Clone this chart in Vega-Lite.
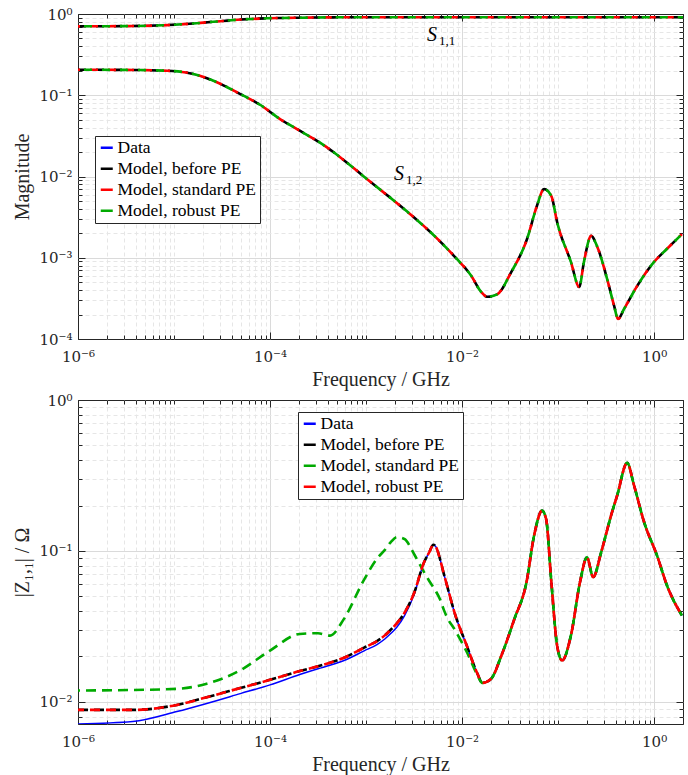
{
  "$schema": "https://vega.github.io/schema/vega-lite/v6.json",
  "padding": {"left": 12, "top": 6, "right": 4, "bottom": 2},
  "spacing": 2,
  "resolve": {"scale": {"color": "independent"}, "legend": {"color": "independent"}},
  "vconcat": [
    {
      "width": 605,
      "height": 325,
      "data": {"values": [
        {"c": "S11", "f": 1e-6, "m": 0.705},
        {"c": "S11", "f": 3.16e-6, "m": 0.71},
        {"c": "S11", "f": 8.51e-6, "m": 0.73},
        {"c": "S11", "f": 1.585e-5, "m": 0.765},
        {"c": "S11", "f": 2.82e-5, "m": 0.81},
        {"c": "S11", "f": 5.0e-5, "m": 0.855},
        {"c": "S11", "f": 9.3e-5, "m": 0.885},
        {"c": "S11", "f": 2.0e-4, "m": 0.9},
        {"c": "S11", "f": 4.6e-4, "m": 0.91},
        {"c": "S11", "f": 1e-3, "m": 0.912},
        {"c": "S11", "f": 1e-2, "m": 0.912},
        {"c": "S11", "f": 0.1, "m": 0.912},
        {"c": "S11", "f": 1, "m": 0.912},
        {"c": "S11", "f": 2, "m": 0.912},
        {"c": "S12", "f": 1e-6, "m": 0.206},
        {"c": "S12", "f": 3.16e-6, "m": 0.205},
        {"c": "S12", "f": 8.51e-6, "m": 0.2},
        {"c": "S12", "f": 1.585e-5, "m": 0.183},
        {"c": "S12", "f": 2.57e-5, "m": 0.151},
        {"c": "S12", "f": 4.9e-5, "m": 0.1035},
        {"c": "S12", "f": 7.94e-5, "m": 0.0759},
        {"c": "S12", "f": 1.26e-4, "m": 0.0513},
        {"c": "S12", "f": 2.04e-4, "m": 0.0366},
        {"c": "S12", "f": 3.09e-4, "m": 0.0275},
        {"c": "S12", "f": 4.57e-4, "m": 0.02},
        {"c": "S12", "f": 5.75e-4, "m": 0.0162},
        {"c": "S12", "f": 1.02e-3, "m": 0.00933},
        {"c": "S12", "f": 2.49e-3, "m": 0.00398},
        {"c": "S12", "f": 4.32e-3, "m": 0.00226},
        {"c": "S12", "f": 8.26e-3, "m": 0.00105},
        {"c": "S12", "f": 0.0124, "m": 0.000603},
        {"c": "S12", "f": 0.0158, "m": 0.00038},
        {"c": "S12", "f": 0.0182, "m": 0.000331},
        {"c": "S12", "f": 0.0232, "m": 0.000355},
        {"c": "S12", "f": 0.0324, "m": 0.00066},
        {"c": "S12", "f": 0.0475, "m": 0.0017},
        {"c": "S12", "f": 0.0603, "m": 0.00437},
        {"c": "S12", "f": 0.0714, "m": 0.007},
        {"c": "S12", "f": 0.0851, "m": 0.00575},
        {"c": "S12", "f": 0.0977, "m": 0.00275},
        {"c": "S12", "f": 0.136, "m": 0.00089},
        {"c": "S12", "f": 0.166, "m": 0.000437},
        {"c": "S12", "f": 0.186, "m": 0.00089},
        {"c": "S12", "f": 0.221, "m": 0.00186},
        {"c": "S12", "f": 0.255, "m": 0.00138},
        {"c": "S12", "f": 0.324, "m": 0.00055},
        {"c": "S12", "f": 0.383, "m": 0.000257},
        {"c": "S12", "f": 0.422, "m": 0.000176},
        {"c": "S12", "f": 0.486, "m": 0.000234},
        {"c": "S12", "f": 0.665, "m": 0.000447},
        {"c": "S12", "f": 1, "m": 0.00089},
        {"c": "S12", "f": 1.365, "m": 0.00129},
        {"c": "S12", "f": 1.95, "m": 0.00195}
      ]},
      "resolve": {"axis": {"x": "independent", "y": "independent"}},
      "layer": [
        {
          "mark": {"type": "line", "strokeWidth": 1.5, "interpolate": "monotone", "clip": true},
          "encoding": {
            "x": {"field": "f", "type": "quantitative",
              "scale": {"type": "log", "domain": [1e-6, 2], "nice": false},
              "axis": {
                "orient": "bottom",
                "values": [1e-6,2e-6,3e-6,4e-6,5e-6,6e-6,7e-6,8e-6,9e-6,1e-5,2e-5,3e-5,4e-5,5e-5,6e-5,7e-5,8e-5,9e-5,1e-4,2e-4,3e-4,4e-4,5e-4,6e-4,7e-4,8e-4,9e-4,0.001,0.002,0.003,0.004,0.005,0.006,0.007,0.008,0.009,0.01,0.02,0.03,0.04,0.05,0.06,0.07,0.08,0.09,0.1,0.2,0.3,0.4,0.5,0.6,0.7,0.8,0.9,1,2],
                "labelExpr": "abs(datum.value/pow(10,round(log(datum.value)/LN10))-1)<1e-6 && round(log(datum.value)/LN10)%2==0 ? '10'+(round(log(datum.value)/LN10)<0?'⁻':'')+['⁰','¹','²','³','⁴','⁵','⁶','⁷','⁸','⁹'][abs(round(log(datum.value)/LN10))] : ''",
                "title": "Frequency / GHz",
                "grid": true,
                "gridColor": {"condition": {"test": "abs(datum.value/pow(10,round(log(datum.value)/LN10))-1)<1e-6 && round(log(datum.value)/LN10)%2==0", "value": "#dadada"}, "value": "#e6e6e6"},
                "gridDash": {"condition": {"test": "abs(datum.value/pow(10,round(log(datum.value)/LN10))-1)<1e-6 && round(log(datum.value)/LN10)%2==0", "value": []}, "value": [4, 3]},
                "gridOpacity": {"condition": {"test": "datum.value < 1.001e-6 || datum.value > 1.99", "value": 0}, "value": 1},
                "tickSize": {"condition": {"test": "abs(datum.value/pow(10,round(log(datum.value)/LN10))-1)<1e-6 && round(log(datum.value)/LN10)%2==0", "value": -7}, "value": -4},
                "labelPadding": 17,
                "titlePadding": 2
              }},
            "y": {"field": "m", "type": "quantitative",
              "scale": {"type": "log", "domain": [1e-4, 1], "nice": false},
              "axis": {
                "orient": "left",
                "values": [1e-4,2e-4,3e-4,4e-4,5e-4,6e-4,7e-4,8e-4,9e-4,0.001,0.002,0.003,0.004,0.005,0.006,0.007,0.008,0.009,0.01,0.02,0.03,0.04,0.05,0.06,0.07,0.08,0.09,0.1,0.2,0.3,0.4,0.5,0.6,0.7,0.8,0.9,1],
                "labelExpr": "abs(datum.value/pow(10,round(log(datum.value)/LN10))-1)<1e-6 ? '10'+(round(log(datum.value)/LN10)<0?'⁻':'')+['⁰','¹','²','³','⁴','⁵','⁶','⁷','⁸','⁹'][abs(round(log(datum.value)/LN10))] : ''",
                "title": "Magnitude",
                "grid": true,
                "gridColor": {"condition": {"test": "abs(datum.value/pow(10,round(log(datum.value)/LN10))-1)<1e-6", "value": "#dadada"}, "value": "#e6e6e6"},
                "gridDash": {"condition": {"test": "abs(datum.value/pow(10,round(log(datum.value)/LN10))-1)<1e-6", "value": []}, "value": [4, 3]},
                "gridOpacity": {"condition": {"test": "datum.value < 1.001e-4 || datum.value > 0.999", "value": 0}, "value": 1},
                "tickSize": {"condition": {"test": "abs(datum.value/pow(10,round(log(datum.value)/LN10))-1)<1e-6", "value": -7}, "value": -4},
                "labelPadding": 13,
                "titlePadding": 6
              }},
            "detail": {"field": "c"},
            "color": {"datum": "Data", "type": "nominal",
              "scale": {"domain": ["Data", "Model, before PE", "Model, standard PE", "Model, robust PE"], "range": ["#0000ff", "#000000", "#ff0000", "#00aa00"]},
              "legend": {"title": null, "legendX": 17, "legendY": 122}}
          }
        },
        {
          "mark": {"type": "line", "strokeWidth": 2.6, "strokeDash": [8, 10], "strokeDashOffset": 0, "interpolate": "monotone", "clip": true},
          "encoding": {
            "x": {"field": "f", "type": "quantitative",
              "axis": {
                "orient": "top",
                "values": [1e-6,2e-6,3e-6,4e-6,5e-6,6e-6,7e-6,8e-6,9e-6,1e-5,2e-5,3e-5,4e-5,5e-5,6e-5,7e-5,8e-5,9e-5,1e-4,2e-4,3e-4,4e-4,5e-4,6e-4,7e-4,8e-4,9e-4,0.001,0.002,0.003,0.004,0.005,0.006,0.007,0.008,0.009,0.01,0.02,0.03,0.04,0.05,0.06,0.07,0.08,0.09,0.1,0.2,0.3,0.4,0.5,0.6,0.7,0.8,0.9,1,2],
                "labels": false, "grid": false, "title": null,
                "tickSize": {"condition": {"test": "abs(datum.value/pow(10,round(log(datum.value)/LN10))-1)<1e-6 && round(log(datum.value)/LN10)%2==0", "value": -7}, "value": -4}
              }},
            "y": {"field": "m", "type": "quantitative",
              "axis": {
                "orient": "right",
                "values": [1e-4,2e-4,3e-4,4e-4,5e-4,6e-4,7e-4,8e-4,9e-4,0.001,0.002,0.003,0.004,0.005,0.006,0.007,0.008,0.009,0.01,0.02,0.03,0.04,0.05,0.06,0.07,0.08,0.09,0.1,0.2,0.3,0.4,0.5,0.6,0.7,0.8,0.9,1],
                "labels": false, "grid": false, "title": null,
                "tickSize": {"condition": {"test": "abs(datum.value/pow(10,round(log(datum.value)/LN10))-1)<1e-6", "value": -7}, "value": -4}
              }},
            "detail": {"field": "c"},
            "color": {"datum": "Model, before PE", "type": "nominal"}
          }
        },
        {
          "mark": {"type": "line", "strokeWidth": 2.6, "strokeDash": [8, 10], "strokeDashOffset": 6, "interpolate": "monotone", "clip": true},
          "encoding": {
            "x": {"field": "f", "type": "quantitative", "axis": null},
            "y": {"field": "m", "type": "quantitative", "axis": null},
            "detail": {"field": "c"},
            "color": {"datum": "Model, standard PE", "type": "nominal"}
          }
        },
        {
          "mark": {"type": "line", "strokeWidth": 2.6, "strokeDash": [8, 10], "strokeDashOffset": 12, "interpolate": "monotone", "clip": true},
          "encoding": {
            "x": {"field": "f", "type": "quantitative", "axis": null},
            "y": {"field": "m", "type": "quantitative", "axis": null},
            "detail": {"field": "c"},
            "color": {"datum": "Model, robust PE", "type": "nominal"}
          }
        },
        {
          "data": {"values": [
            {"f": 4.31e-3, "m": 0.552, "t": "S", "s": "1,1"},
            {"f": 1.96e-3, "m": 0.0107, "t": "S", "s": "1,2"}
          ]},
          "mark": {"type": "text", "align": "left", "baseline": "middle", "font": "Liberation Serif", "fontStyle": "italic", "fontSize": 20, "color": "#000000"},
          "encoding": {
            "x": {"field": "f", "type": "quantitative", "axis": null},
            "y": {"field": "m", "type": "quantitative", "axis": null},
            "text": {"field": "t"}
          }
        },
        {
          "data": {"values": [
            {"f": 4.31e-3, "m": 0.552, "t": "S", "s": "1,1"},
            {"f": 1.96e-3, "m": 0.0107, "t": "S", "s": "1,2"}
          ]},
          "mark": {"type": "text", "align": "left", "baseline": "middle", "font": "Liberation Serif", "fontSize": 13, "dx": 12, "dy": 6, "color": "#000000"},
          "encoding": {
            "x": {"field": "f", "type": "quantitative", "axis": null},
            "y": {"field": "m", "type": "quantitative", "axis": null},
            "text": {"field": "s"}
          }
        }
      ]
    },
    {
      "width": 605,
      "height": 324,
      "data": {"values": [
        {"f": 1e-6, "d": 0.00714, "b": 0.00885, "s": 0.0119, "r": 0.00885},
        {"f": 3.72e-6, "d": 0.00741, "b": 0.00885, "s": 0.012, "r": 0.00885},
        {"f": 1.07e-5, "d": 0.00863, "b": 0.00955, "s": 0.0122, "r": 0.00955},
        {"f": 2.19e-5, "d": 0.00977, "b": 0.01074, "s": 0.0132, "r": 0.01074},
        {"f": 4.9e-5, "d": 0.01135, "b": 0.01236, "s": 0.0162, "r": 0.01236},
        {"f": 1e-4, "d": 0.01297, "b": 0.014, "s": 0.0219, "r": 0.014},
        {"f": 2.04e-4, "d": 0.0152, "b": 0.016, "s": 0.0282, "r": 0.016},
        {"f": 3.16e-4, "d": 0.0166, "b": 0.0172, "s": 0.0285, "r": 0.0172},
        {"f": 4.22e-4, "d": 0.0175, "b": 0.0182, "s": 0.0275, "r": 0.0182},
        {"f": 5.89e-4, "d": 0.0188, "b": 0.0196, "s": 0.0355, "r": 0.0196},
        {"f": 9.55e-4, "d": 0.0218, "b": 0.0229, "s": 0.0646, "r": 0.0229},
        {"f": 1.3e-3, "d": 0.024, "b": 0.0253, "s": 0.089, "r": 0.0253},
        {"f": 1.58e-3, "d": 0.0262, "b": 0.0277, "s": 0.102, "r": 0.0277},
        {"f": 1.82e-3, "d": 0.0285, "b": 0.0302, "s": 0.115, "r": 0.0302},
        {"f": 2.09e-3, "d": 0.0312, "b": 0.0331, "s": 0.1233, "r": 0.0331},
        {"f": 2.51e-3, "d": 0.0372, "b": 0.0389, "s": 0.12, "r": 0.0389},
        {"f": 3.16e-3, "d": 0.0513, "b": 0.0525, "s": 0.0955, "r": 0.0525},
        {"f": 4.02e-3, "d": 0.0841, "b": 0.0841, "s": 0.0724, "r": 0.0841},
        {"f": 4.57e-3, "d": 0.0984, "b": 0.0984, "s": 0.063, "r": 0.0984},
        {"f": 5.01e-3, "d": 0.11, "b": 0.11, "s": 0.0575, "r": 0.11},
        {"f": 5.37e-3, "d": 0.106, "b": 0.106, "s": 0.0537, "r": 0.106},
        {"f": 5.89e-3, "d": 0.0885, "b": 0.0885, "s": 0.0479, "r": 0.0885},
        {"f": 6.46e-3, "d": 0.0705, "b": 0.0705, "s": 0.0407, "r": 0.0705},
        {"f": 6.98e-3, "d": 0.0589, "b": 0.0589, "s": 0.0363, "r": 0.0589},
        {"f": 8.32e-3, "d": 0.0393, "b": 0.0393, "s": 0.0304, "r": 0.0393},
        {"f": 0.0112, "d": 0.0236, "b": 0.0236, "s": 0.0214, "r": 0.0236},
        {"f": 0.0145, "d": 0.0153, "b": 0.0153, "s": 0.015, "r": 0.0153},
        {"f": 0.0162, "d": 0.01337, "b": 0.01337, "s": 0.01337, "r": 0.01337},
        {"f": 0.02, "d": 0.0142, "b": 0.0142, "s": 0.0142, "r": 0.0142},
        {"f": 0.0257, "d": 0.0203, "b": 0.0203, "s": 0.0203, "r": 0.0203},
        {"f": 0.0351, "d": 0.0355, "b": 0.0355, "s": 0.0355, "r": 0.0355},
        {"f": 0.0468, "d": 0.0617, "b": 0.0617, "s": 0.0617, "r": 0.0617},
        {"f": 0.0562, "d": 0.126, "b": 0.126, "s": 0.126, "r": 0.126},
        {"f": 0.0681, "d": 0.185, "b": 0.185, "s": 0.185, "r": 0.185},
        {"f": 0.075, "d": 0.163, "b": 0.163, "s": 0.163, "r": 0.163},
        {"f": 0.0851, "d": 0.0621, "b": 0.0621, "s": 0.0621, "r": 0.0621},
        {"f": 0.0977, "d": 0.0236, "b": 0.0236, "s": 0.0236, "r": 0.0236},
        {"f": 0.11, "d": 0.0188, "b": 0.0188, "s": 0.0188, "r": 0.0188},
        {"f": 0.136, "d": 0.0275, "b": 0.0275, "s": 0.0275, "r": 0.0275},
        {"f": 0.17, "d": 0.0631, "b": 0.0631, "s": 0.0631, "r": 0.0631},
        {"f": 0.2, "d": 0.0908, "b": 0.0908, "s": 0.0908, "r": 0.0908},
        {"f": 0.232, "d": 0.067, "b": 0.067, "s": 0.067, "r": 0.067},
        {"f": 0.281, "d": 0.098, "b": 0.098, "s": 0.098, "r": 0.098},
        {"f": 0.356, "d": 0.1714, "b": 0.1714, "s": 0.1714, "r": 0.1714},
        {"f": 0.412, "d": 0.2323, "b": 0.2323, "s": 0.2323, "r": 0.2323},
        {"f": 0.524, "d": 0.383, "b": 0.383, "s": 0.383, "r": 0.383},
        {"f": 0.619, "d": 0.271, "b": 0.271, "s": 0.271, "r": 0.271},
        {"f": 0.787, "d": 0.155, "b": 0.155, "s": 0.155, "r": 0.155},
        {"f": 1.074, "d": 0.0931, "b": 0.0931, "s": 0.0931, "r": 0.0931},
        {"f": 1.365, "d": 0.0589, "b": 0.0589, "s": 0.0589, "r": 0.0589},
        {"f": 1.95, "d": 0.0373, "b": 0.0373, "s": 0.0373, "r": 0.0373}
      ]},
      "resolve": {"axis": {"x": "independent", "y": "independent"}},
      "layer": [
        {
          "mark": {"type": "line", "strokeWidth": 1.5, "interpolate": "monotone", "clip": true},
          "encoding": {
            "x": {"field": "f", "type": "quantitative",
              "scale": {"type": "log", "domain": [1e-6, 2], "nice": false},
              "axis": {
                "orient": "bottom",
                "values": [1e-6,2e-6,3e-6,4e-6,5e-6,6e-6,7e-6,8e-6,9e-6,1e-5,2e-5,3e-5,4e-5,5e-5,6e-5,7e-5,8e-5,9e-5,1e-4,2e-4,3e-4,4e-4,5e-4,6e-4,7e-4,8e-4,9e-4,0.001,0.002,0.003,0.004,0.005,0.006,0.007,0.008,0.009,0.01,0.02,0.03,0.04,0.05,0.06,0.07,0.08,0.09,0.1,0.2,0.3,0.4,0.5,0.6,0.7,0.8,0.9,1,2],
                "labelExpr": "abs(datum.value/pow(10,round(log(datum.value)/LN10))-1)<1e-6 && round(log(datum.value)/LN10)%2==0 ? '10'+(round(log(datum.value)/LN10)<0?'⁻':'')+['⁰','¹','²','³','⁴','⁵','⁶','⁷','⁸','⁹'][abs(round(log(datum.value)/LN10))] : ''",
                "title": "Frequency / GHz",
                "grid": true,
                "gridColor": {"condition": {"test": "abs(datum.value/pow(10,round(log(datum.value)/LN10))-1)<1e-6 && round(log(datum.value)/LN10)%2==0", "value": "#dadada"}, "value": "#e6e6e6"},
                "gridDash": {"condition": {"test": "abs(datum.value/pow(10,round(log(datum.value)/LN10))-1)<1e-6 && round(log(datum.value)/LN10)%2==0", "value": []}, "value": [4, 3]},
                "gridOpacity": {"condition": {"test": "datum.value < 1.001e-6 || datum.value > 1.99", "value": 0}, "value": 1},
                "tickSize": {"condition": {"test": "abs(datum.value/pow(10,round(log(datum.value)/LN10))-1)<1e-6 && round(log(datum.value)/LN10)%2==0", "value": -7}, "value": -4},
                "labelPadding": 17,
                "titlePadding": 2
              }},
            "y": {"field": "d", "type": "quantitative",
              "scale": {"type": "log", "domain": [0.00714, 1], "nice": false},
              "axis": {
                "orient": "left",
                "values": [0.008,0.009,0.01,0.02,0.03,0.04,0.05,0.06,0.07,0.08,0.09,0.1,0.2,0.3,0.4,0.5,0.6,0.7,0.8,0.9,1],
                "labelExpr": "abs(datum.value/pow(10,round(log(datum.value)/LN10))-1)<1e-6 ? '10'+(round(log(datum.value)/LN10)<0?'⁻':'')+['⁰','¹','²','³','⁴','⁵','⁶','⁷','⁸','⁹'][abs(round(log(datum.value)/LN10))] : ''",
                "title": "|Z₁,₁| / Ω",
                "grid": true,
                "gridColor": {"condition": {"test": "abs(datum.value/pow(10,round(log(datum.value)/LN10))-1)<1e-6", "value": "#dadada"}, "value": "#e6e6e6"},
                "gridDash": {"condition": {"test": "abs(datum.value/pow(10,round(log(datum.value)/LN10))-1)<1e-6", "value": []}, "value": [4, 3]},
                "gridOpacity": {"condition": {"test": "datum.value > 0.999", "value": 0}, "value": 1},
                "tickSize": {"condition": {"test": "abs(datum.value/pow(10,round(log(datum.value)/LN10))-1)<1e-6", "value": -7}, "value": -4},
                "labelPadding": 13,
                "titlePadding": 6
              }},
            "color": {"datum": "Data", "type": "nominal",
              "scale": {"domain": ["Data", "Model, before PE", "Model, standard PE", "Model, robust PE"], "range": ["#0000ff", "#000000", "#00aa00", "#ff0000"]},
              "legend": {"title": null, "legendX": 220, "legendY": 12}}
          }
        },
        {
          "mark": {"type": "line", "strokeWidth": 2.6, "strokeDash": [10, 6], "strokeDashOffset": 0, "interpolate": "monotone", "clip": true},
          "encoding": {
            "x": {"field": "f", "type": "quantitative",
              "axis": {
                "orient": "top",
                "values": [1e-6,2e-6,3e-6,4e-6,5e-6,6e-6,7e-6,8e-6,9e-6,1e-5,2e-5,3e-5,4e-5,5e-5,6e-5,7e-5,8e-5,9e-5,1e-4,2e-4,3e-4,4e-4,5e-4,6e-4,7e-4,8e-4,9e-4,0.001,0.002,0.003,0.004,0.005,0.006,0.007,0.008,0.009,0.01,0.02,0.03,0.04,0.05,0.06,0.07,0.08,0.09,0.1,0.2,0.3,0.4,0.5,0.6,0.7,0.8,0.9,1,2],
                "labels": false, "grid": false, "title": null,
                "tickSize": {"condition": {"test": "abs(datum.value/pow(10,round(log(datum.value)/LN10))-1)<1e-6 && round(log(datum.value)/LN10)%2==0", "value": -7}, "value": -4}
              }},
            "y": {"field": "b", "type": "quantitative",
              "axis": {
                "orient": "right",
                "values": [0.008,0.009,0.01,0.02,0.03,0.04,0.05,0.06,0.07,0.08,0.09,0.1,0.2,0.3,0.4,0.5,0.6,0.7,0.8,0.9,1],
                "labels": false, "grid": false, "title": null,
                "tickSize": {"condition": {"test": "abs(datum.value/pow(10,round(log(datum.value)/LN10))-1)<1e-6", "value": -7}, "value": -4}
              }},
            "color": {"datum": "Model, before PE", "type": "nominal"}
          }
        },
        {
          "mark": {"type": "line", "strokeWidth": 2.6, "strokeDash": [10, 6], "strokeDashOffset": 8, "interpolate": "monotone", "clip": true},
          "encoding": {
            "x": {"field": "f", "type": "quantitative", "axis": null},
            "y": {"field": "s", "type": "quantitative", "axis": null},
            "color": {"datum": "Model, standard PE", "type": "nominal"}
          }
        },
        {
          "mark": {"type": "line", "strokeWidth": 2.6, "strokeDash": [10, 6], "strokeDashOffset": 4, "interpolate": "monotone", "clip": true},
          "encoding": {
            "x": {"field": "f", "type": "quantitative", "axis": null},
            "y": {"field": "r", "type": "quantitative", "axis": null},
            "color": {"datum": "Model, robust PE", "type": "nominal"}
          }
        }
      ]
    }
  ],
  "config": {
    "font": "Liberation Serif",
    "view": {"stroke": "#262626", "strokeWidth": 1},
    "axis": {
      "labelFont": "DejaVu Serif", "labelFontSize": 15, "labelColor": "#262626",
      "titleFont": "Liberation Serif", "titleFontSize": 20, "titleFontWeight": "normal", "titleColor": "#262626",
      "domain": false, "tickColor": "#262626", "tickWidth": 1,
      "labelOverlap": false, "labelFlush": false, "labelBound": false
    },
    "legend": {
      "orient": "none",
      "symbolType": "stroke", "symbolSize": 144, "symbolStrokeWidth": 2.5, "symbolDash": [1, 0],
      "labelFont": "Liberation Serif", "labelFontSize": 17.5, "labelColor": "#000000", "labelOffset": 2, "labelLimit": 300,
      "rowPadding": 2, "padding": 3, "strokeColor": "#262626", "fillColor": "#ffffff", "cornerRadius": 0
    }
  }
}
